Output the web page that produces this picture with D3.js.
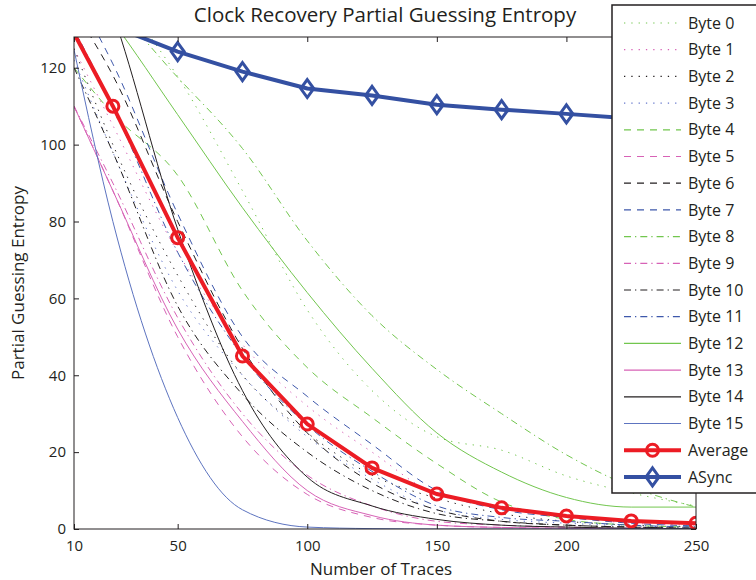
<!DOCTYPE html>
<html>
<head>
<meta charset="utf-8">
<script src="https://cdn.jsdelivr.net/npm/d3@7"></script>
<style>
  body { margin: 0; background: #fff; }
  text { font-family: "Open Sans", "Noto Sans", sans-serif; fill: #231f20; }
</style>
</head>
<body>
<div id="chart"></div>
<script>
// number of traces at which every curve was sampled
const traces = [10, 25, 50, 75, 100, 125, 150, 175, 200, 225, 250];

const byte0  = [150, 140, 117.7, 88, 57, 36, 24, 20.5, 13.8, 9.4, 6];
const byte1  = [125, 105, 72, 48, 32, 20, 9, 6, 3.5, 1.5, 1];
const byte2  = [125, 100, 66, 40, 25, 14, 8, 4, 2, 1, 0.5];
const byte3  = [122, 98, 62, 40, 24, 13, 5, 2.5, 1.5, 0.8, 0.4];
const byte4  = [120, 108, 92, 62, 42, 29, 17, 7, 2.5, 1, 0.5];
const byte5  = [110, 88, 50, 24, 9, 3, 1, 0.4, 0.2, 0.1, 0];
const byte6  = [135, 118, 80, 47, 25, 12, 5, 2, 1, 0.5, 0.2];
const byte7  = [140, 121, 82, 50, 34.5, 22, 10, 5, 3, 1.5, 0.8];
const byte8  = [140, 135, 117.5, 99, 75, 55.5, 41.5, 30, 19.3, 11, 5.7];
const byte9  = [110, 90, 55, 30, 14, 6, 2, 1, 0.5, 0.2, 0.1];
const byte10 = [120, 98, 58, 35, 20, 10, 4, 2, 1, 0.5, 0.2];
const byte11 = [130, 110, 72, 45, 27, 15, 6, 3, 2, 1, 0.5];
const byte12 = [145, 132, 107.8, 83.6, 61.5, 41.8, 25, 14.8, 8.2, 5.7, 5.7];
const byte13 = [110, 88, 52, 28, 10, 3.5, 1, 0.4, 0.2, 0.1, 0];
const byte14 = [160, 134, 78, 36, 13.5, 6, 2.5, 1, 0.5, 0.2, 0.1];
const byte15 = [124.7, 80, 29, 5, 0.5, 0.1, 0, 0, 0, 0, 0];
const average = [129, 110, 75.8, 45, 27.3, 15.9, 9.1, 5.5, 3.4, 2.1, 1.5];
const asyncEntropy = [134, 130.8, 124.2, 119, 114.6, 112.8, 110.4, 109.1, 108, 106.8, 106];

const byteSeries = [byte0, byte1, byte2, byte3, byte4, byte5, byte6, byte7,
                    byte8, byte9, byte10, byte11, byte12, byte13, byte14, byte15];
const byteNames = byteSeries.map((d, i) => "Byte " + i);

const xTicks = [10, 50, 100, 150, 200, 250];
const yTicks = [0, 20, 40, 60, 80, 100, 120];

const margin = { top: 37, right: 60, bottom: 51, left: 74 },
      width = 756 - margin.left - margin.right,
      height = 580 - margin.top - margin.bottom;

const colours = ["#72c64e", "#d762b6", "#231f20", "#3e58ab"];
const dashes = ["1.3,6", "7,6", "7,4,1.3,4", null];
const styleOf = i => ({
  colour: i === 3 ? "#6577cc" : i === 15 ? "#5d74c0" : colours[i % 4],
  dash: dashes[Math.floor(i / 4)]
});

const svg = d3.select("#chart").append("svg")
    .attr("width", 756)
    .attr("height", 580);

const g = svg.append("g")
    .attr("transform", "translate(" + margin.left + "," + margin.top + ")");

const x = d3.scaleLinear().domain([10, 250]).range([0, width]);
const y = d3.scaleLinear().domain([0, 128]).range([height, 0]);

svg.append("defs").append("clipPath").attr("id", "plot-clip")
  .append("rect").attr("width", width).attr("height", height);

const plot = g.append("g").attr("clip-path", "url(#plot-clip)");

const smooth = d3.line()
    .x((d, i) => x(traces[i]))
    .y(d => y(d))
    .curve(d3.curveMonotoneX);

const straight = d3.line()
    .x((d, i) => x(traces[i]))
    .y(d => y(d));

byteSeries.forEach((vals, i) => {
  const s = styleOf(i);
  plot.append("path")
      .datum(vals)
      .attr("fill", "none")
      .attr("stroke", s.colour)
      .attr("stroke-width", 1)
      .attr("stroke-dasharray", s.dash)
      .attr("d", smooth);
});

const red = "#ec1c24", navy = "#3450a2";
const diamond = "M0,-9L6.5,0L0,9L-6.5,0Z";

plot.append("path")
    .datum(average)
    .attr("fill", "none")
    .attr("stroke", red)
    .attr("stroke-width", 4)
    .attr("d", straight);

plot.selectAll(".avg-mark")
  .data(average.slice(1))
  .enter().append("circle")
    .attr("class", "avg-mark")
    .attr("cx", (d, i) => x(traces[i + 1]))
    .attr("cy", d => y(d))
    .attr("r", 6)
    .attr("fill", "none")
    .attr("stroke", red)
    .attr("stroke-width", 3);

plot.append("path")
    .datum(asyncEntropy)
    .attr("fill", "none")
    .attr("stroke", navy)
    .attr("stroke-width", 4)
    .attr("d", straight);

plot.selectAll(".async-mark")
  .data(asyncEntropy.slice(2))
  .enter().append("path")
    .attr("class", "async-mark")
    .attr("transform", (d, i) => "translate(" + x(traces[i + 2]) + "," + y(d) + ")")
    .attr("d", diamond)
    .attr("fill", "none")
    .attr("stroke", navy)
    .attr("stroke-width", 3);

// axes, MATLAB style: ticks inside, on all four sides
const fontSize = "15px";
g.append("g")
    .attr("transform", "translate(0," + height + ")")
    .call(d3.axisBottom(x).tickValues(xTicks).tickSize(-5).tickPadding(11))
    .call(a => a.select(".domain").remove())
    .selectAll("text").style("font-size", fontSize);

g.append("g")
    .call(d3.axisTop(x).tickValues(xTicks).tickSize(-5).tickFormat(""))
    .call(a => a.select(".domain").remove());

g.append("g")
    .call(d3.axisLeft(y).tickValues(yTicks).tickSize(-5).tickPadding(8))
    .call(a => a.select(".domain").remove())
    .selectAll("text").style("font-size", fontSize);

g.append("g")
    .attr("transform", "translate(" + width + ",0)")
    .call(d3.axisRight(y).tickValues(yTicks).tickSize(-5).tickFormat(""))
    .call(a => a.select(".domain").remove());

g.selectAll(".tick line").attr("stroke", "#231f20");

g.append("rect")
    .attr("width", width)
    .attr("height", height)
    .attr("fill", "none")
    .attr("stroke", "#231f20")
    .attr("stroke-width", 1);

// title and axis labels
svg.append("text")
    .attr("x", margin.left + width / 2)
    .attr("y", 22)
    .style("text-anchor", "middle")
    .style("font-size", "20.5px")
    .text("Clock Recovery Partial Guessing Entropy");

svg.append("text")
    .attr("x", margin.left + width / 2 - 4)
    .attr("y", 575)
    .style("text-anchor", "middle")
    .style("font-size", "17px")
    .text("Number of Traces");

svg.append("text")
    .attr("transform", "rotate(-90)")
    .attr("x", -(margin.top + height / 2))
    .attr("y", 24)
    .style("text-anchor", "middle")
    .style("font-size", "17px")
    .text("Partial Guessing Entropy");

// legend
const legendNames = byteNames.concat(["Average", "ASync"]);
const legend = svg.append("g").attr("transform", "translate(612,5)");

legend.append("rect")
    .attr("width", 160)
    .attr("height", 488)
    .attr("fill", "#fff")
    .attr("stroke", "#231f20")
    .attr("stroke-width", 1.5);

const rows = legend.selectAll(".row")
  .data(legendNames)
  .enter().append("g")
    .attr("class", "row")
    .attr("transform", (d, i) => "translate(0," + (18 + i * 26.7) + ")");

rows.append("line")
    .attr("x1", 12)
    .attr("x2", 69)
    .attr("stroke", (d, i) => i < 16 ? styleOf(i).colour : i === 16 ? red : navy)
    .attr("stroke-width", (d, i) => i < 16 ? 1.2 : 4)
    .attr("stroke-dasharray", (d, i) => i < 16 ? styleOf(i).dash : null);

rows.filter((d, i) => i === 16).append("circle")
    .attr("cx", 40.5).attr("r", 6)
    .attr("fill", "none").attr("stroke", red).attr("stroke-width", 3);

rows.filter((d, i) => i === 17).append("path")
    .attr("transform", "translate(40.5,0)")
    .attr("d", diamond)
    .attr("fill", "none").attr("stroke", navy).attr("stroke-width", 3);

rows.append("text")
    .attr("x", 76)
    .attr("dy", "0.35em")
    .style("font-size", "16px")
    .text(d => d);
</script>
</body>
</html>
